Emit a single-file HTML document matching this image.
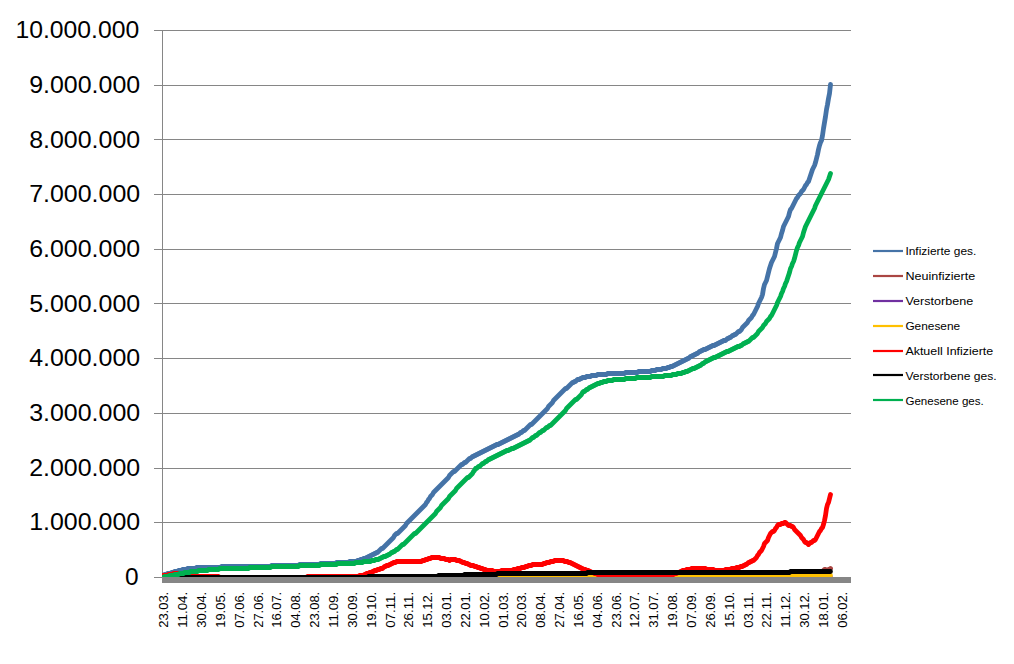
<!DOCTYPE html>
<html lang="de"><head><meta charset="utf-8"><title>Diagramm</title>
<style>html,body{margin:0;padding:0;background:#fff;}body{width:1014px;height:664px;overflow:hidden;}svg{display:block;}text{font-family:"Liberation Sans",sans-serif;fill:#000;}</style></head><body>
<svg width="1014" height="664" viewBox="0 0 1014 664">
<rect width="1014" height="664" fill="#fff"/>
<defs><clipPath id="pa"><rect x="162" y="0" width="699" height="577.5"/></clipPath></defs>
<g stroke="#868686" stroke-width="1" shape-rendering="crispEdges">
<line x1="154" y1="577.5" x2="851" y2="577.5"/>
<line x1="154" y1="522.5" x2="851" y2="522.5"/>
<line x1="154" y1="468.5" x2="851" y2="468.5"/>
<line x1="154" y1="413.5" x2="851" y2="413.5"/>
<line x1="154" y1="358.5" x2="851" y2="358.5"/>
<line x1="154" y1="303.5" x2="851" y2="303.5"/>
<line x1="154" y1="249.5" x2="851" y2="249.5"/>
<line x1="154" y1="194.5" x2="851" y2="194.5"/>
<line x1="154" y1="139.5" x2="851" y2="139.5"/>
<line x1="154" y1="85.5" x2="851" y2="85.5"/>
<line x1="154" y1="30.5" x2="851" y2="30.5"/>
<line x1="162.5" y1="30" x2="162.5" y2="578"/>
</g>
<g clip-path="url(#pa)">
<polyline points="162.5,575.5 163.5,575.5 164.5,574.5 166.5,574.5 167.5,573.5 170.5,573.5 171.5,572.5 173.5,572.5 174.5,571.5 177.5,571.5 178.5,570.5 181.5,570.5 182.5,569.5 186.5,569.5 187.5,568.5 195.5,568.5 196.5,567.5 220.5,567.5 221.5,566.5 270.5,566.5 271.5,565.5 298.5,565.5 299.5,564.5 319.5,564.5 320.5,563.5 335.5,563.5 336.5,562.5 348.5,562.5 349.5,561.5 356.5,561.5 357.5,560.5 359.5,560.5 360.5,559.5 362.5,559.5 363.5,558.5 365.5,558.5 366.5,557.5 367.5,557.5 368.5,556.5 369.5,556.5 370.5,555.5 371.5,555.5 372.5,554.5 373.5,554.5 374.5,553.5 375.5,553.5 376.5,552.5 377.5,552.5 378.5,551.5 379.5,550.5 380.5,549.5 381.5,548.5 382.5,548.5 383.5,547.5 384.5,546.5 385.5,545.5 386.5,544.5 387.5,543.5 388.5,542.5 389.5,541.5 390.5,540.5 391.5,539.5 392.5,538.5 393.5,537.5 394.5,535.5 395.5,534.5 396.5,533.5 397.5,533.5 398.5,532.5 399.5,531.5 400.5,530.5 401.5,529.5 402.5,528.5 403.5,527.5 404.5,526.5 405.5,525.5 406.5,523.5 407.5,522.5 408.5,521.5 409.5,520.5 410.5,519.5 411.5,518.5 412.5,517.5 413.5,516.5 414.5,515.5 415.5,514.5 416.5,513.5 417.5,512.5 418.5,511.5 419.5,510.5 420.5,509.5 421.5,508.5 422.5,507.5 423.5,506.5 424.5,505.5 425.5,504.5 426.5,502.5 427.5,501.5 428.5,499.5 429.5,498.5 430.5,496.5 431.5,495.5 432.5,494.5 433.5,492.5 434.5,491.5 435.5,490.5 436.5,489.5 437.5,488.5 438.5,487.5 439.5,486.5 440.5,485.5 441.5,484.5 442.5,483.5 443.5,482.5 444.5,481.5 445.5,480.5 446.5,479.5 447.5,478.5 448.5,477.5 449.5,475.5 450.5,474.5 451.5,473.5 452.5,472.5 453.5,471.5 454.5,471.5 455.5,470.5 456.5,469.5 457.5,468.5 458.5,467.5 459.5,466.5 460.5,465.5 461.5,464.5 462.5,464.5 463.5,463.5 464.5,462.5 465.5,462.5 466.5,461.5 467.5,460.5 468.5,459.5 469.5,458.5 470.5,458.5 471.5,457.5 472.5,456.5 473.5,456.5 474.5,455.5 475.5,455.5 476.5,454.5 477.5,454.5 478.5,453.5 479.5,453.5 480.5,452.5 481.5,452.5 482.5,451.5 483.5,451.5 484.5,450.5 485.5,450.5 486.5,449.5 487.5,449.5 488.5,448.5 489.5,448.5 490.5,447.5 491.5,447.5 492.5,446.5 493.5,446.5 494.5,445.5 495.5,445.5 496.5,444.5 498.5,444.5 499.5,443.5 500.5,443.5 501.5,442.5 502.5,442.5 503.5,441.5 504.5,441.5 505.5,440.5 506.5,440.5 507.5,439.5 508.5,439.5 509.5,438.5 510.5,438.5 511.5,437.5 512.5,437.5 513.5,436.5 514.5,436.5 515.5,435.5 516.5,435.5 517.5,434.5 518.5,434.5 519.5,433.5 520.5,432.5 521.5,432.5 522.5,431.5 523.5,430.5 524.5,430.5 525.5,429.5 526.5,428.5 527.5,427.5 528.5,426.5 529.5,425.5 530.5,424.5 531.5,424.5 532.5,423.5 533.5,422.5 534.5,421.5 535.5,420.5 536.5,419.5 537.5,418.5 538.5,417.5 539.5,416.5 540.5,415.5 541.5,414.5 542.5,413.5 543.5,412.5 544.5,411.5 545.5,410.5 546.5,409.5 547.5,408.5 548.5,406.5 549.5,405.5 550.5,404.5 551.5,403.5 552.5,402.5 553.5,400.5 554.5,399.5 555.5,398.5 556.5,397.5 557.5,396.5 558.5,395.5 559.5,394.5 560.5,393.5 561.5,392.5 562.5,391.5 563.5,390.5 564.5,389.5 565.5,388.5 566.5,388.5 567.5,387.5 568.5,386.5 569.5,385.5 570.5,384.5 571.5,383.5 572.5,382.5 573.5,382.5 574.5,381.5 575.5,381.5 576.5,380.5 577.5,379.5 579.5,379.5 580.5,378.5 581.5,378.5 582.5,377.5 585.5,377.5 586.5,376.5 590.5,376.5 591.5,375.5 596.5,375.5 597.5,374.5 606.5,374.5 607.5,373.5 624.5,373.5 625.5,372.5 637.5,372.5 638.5,371.5 650.5,371.5 651.5,370.5 655.5,370.5 656.5,369.5 661.5,369.5 662.5,368.5 666.5,368.5 667.5,367.5 669.5,367.5 670.5,366.5 672.5,366.5 673.5,365.5 674.5,365.5 675.5,364.5 676.5,364.5 677.5,363.5 678.5,363.5 679.5,362.5 680.5,362.5 681.5,361.5 682.5,361.5 683.5,360.5 684.5,360.5 685.5,359.5 686.5,359.5 687.5,358.5 688.5,358.5 689.5,357.5 690.5,356.5 691.5,356.5 692.5,355.5 693.5,355.5 694.5,354.5 695.5,354.5 696.5,353.5 697.5,353.5 698.5,352.5 699.5,351.5 700.5,351.5 701.5,350.5 702.5,350.5 703.5,349.5 705.5,349.5 706.5,348.5 707.5,348.5 708.5,347.5 709.5,347.5 710.5,346.5 711.5,346.5 712.5,345.5 714.5,345.5 715.5,344.5 716.5,344.5 717.5,343.5 718.5,343.5 719.5,342.5 720.5,342.5 721.5,341.5 722.5,341.5 723.5,340.5 725.5,340.5 726.5,339.5 727.5,338.5 728.5,338.5 729.5,337.5 730.5,337.5 731.5,336.5 732.5,335.5 733.5,335.5 734.5,334.5 735.5,334.5 736.5,333.5 737.5,332.5 738.5,331.5 739.5,331.5 740.5,330.5 741.5,329.5 742.5,327.5 743.5,326.5 744.5,325.5 745.5,324.5 746.5,323.5 747.5,322.5 748.5,320.5 749.5,319.5 750.5,318.5 751.5,317.5 752.5,315.5 753.5,314.5 754.5,312.5 755.5,310.5 756.5,308.5 757.5,306.5 758.5,303.5 759.5,301.5 760.5,299.5 761.5,297.5 762.5,294.5 763.5,288.5 764.5,284.5 765.5,282.5 766.5,280.5 767.5,276.5 768.5,272.5 769.5,268.5 770.5,265.5 771.5,262.5 772.5,260.5 773.5,258.5 774.5,256.5 775.5,252.5 776.5,248.5 777.5,243.5 778.5,241.5 779.5,239.5 780.5,237.5 781.5,233.5 782.5,230.5 783.5,226.5 784.5,224.5 785.5,222.5 786.5,220.5 787.5,218.5 788.5,216.5 789.5,212.5 790.5,209.5 791.5,208.5 792.5,206.5 793.5,204.5 794.5,202.5 795.5,200.5 796.5,198.5 797.5,197.5 798.5,195.5 799.5,194.5 800.5,193.5 801.5,191.5 802.5,190.5 803.5,189.5 804.5,187.5 805.5,185.5 806.5,184.5 807.5,182.5 808.5,181.5 809.5,178.5 810.5,175.5 811.5,172.5 812.5,169.5 813.5,167.5 814.5,165.5 815.5,162.5 816.5,158.5 817.5,154.5 818.5,149.5 819.5,145.5 820.5,142.5 821.5,140.5 822.5,135.5 823.5,128.5 824.5,122.5 825.5,116.5 826.5,109.5 827.5,104.5 828.5,98.5 829.5,93.5 830.5,84.5" fill="none" stroke="#4573A7" stroke-width="4.8" stroke-linecap="round" stroke-linejoin="round"/>
<polyline points="162.5,577.5 739.5,577.5 740.5,576.5 789.5,576.5 790.5,575.5 806.5,575.5 807.5,574.5 812.5,574.5 813.5,573.5 817.5,573.5 818.5,572.5 820.5,572.5 821.5,571.5 822.5,571.5 823.5,570.5 824.5,569.5 825.5,569.5 826.5,570.5 827.5,570.5 828.5,569.5 829.5,569.5 830.5,568.5" fill="none" stroke="#AA4643" stroke-width="4.8" stroke-linecap="round" stroke-linejoin="round"/>
<polyline points="162.5,577.5 830.5,577.5" fill="none" stroke="#7030A0" stroke-width="4.8" stroke-linecap="round" stroke-linejoin="round"/>
<polyline points="162.5,577.5 329.5,577.5 330.5,576.5 479.5,576.5 480.5,575.5 830.5,575.5" fill="none" stroke="#FFC000" stroke-width="4.8" stroke-linecap="round" stroke-linejoin="round"/>
<polyline points="162.5,575.5 167.5,575.5 168.5,574.5 172.5,574.5 173.5,573.5 181.5,573.5 182.5,574.5 185.5,574.5 186.5,575.5 190.5,575.5 191.5,576.5 218.5,576.5 219.5,577.5 306.5,577.5 307.5,576.5 358.5,576.5 359.5,575.5 363.5,575.5 364.5,574.5 365.5,574.5 366.5,573.5 368.5,573.5 369.5,572.5 371.5,572.5 372.5,571.5 373.5,571.5 374.5,570.5 376.5,570.5 377.5,569.5 379.5,569.5 380.5,568.5 382.5,568.5 383.5,567.5 384.5,566.5 385.5,566.5 386.5,565.5 388.5,565.5 389.5,564.5 390.5,564.5 391.5,563.5 392.5,563.5 393.5,562.5 395.5,562.5 396.5,561.5 421.5,561.5 422.5,560.5 424.5,560.5 425.5,559.5 427.5,559.5 428.5,558.5 430.5,558.5 431.5,557.5 439.5,557.5 440.5,558.5 444.5,558.5 445.5,559.5 448.5,559.5 449.5,560.5 450.5,559.5 455.5,559.5 456.5,560.5 459.5,560.5 460.5,561.5 461.5,561.5 462.5,562.5 464.5,562.5 465.5,563.5 467.5,563.5 468.5,564.5 469.5,564.5 470.5,565.5 473.5,565.5 474.5,566.5 476.5,566.5 477.5,567.5 479.5,567.5 480.5,568.5 482.5,568.5 483.5,569.5 485.5,569.5 486.5,570.5 492.5,570.5 493.5,571.5 500.5,571.5 501.5,570.5 512.5,570.5 513.5,569.5 516.5,569.5 517.5,568.5 520.5,568.5 521.5,567.5 524.5,567.5 525.5,566.5 527.5,566.5 528.5,565.5 531.5,565.5 532.5,564.5 542.5,564.5 543.5,563.5 545.5,563.5 546.5,562.5 549.5,562.5 550.5,561.5 553.5,561.5 554.5,560.5 563.5,560.5 564.5,561.5 567.5,561.5 568.5,562.5 570.5,562.5 571.5,563.5 572.5,563.5 573.5,564.5 574.5,564.5 575.5,565.5 576.5,565.5 577.5,566.5 578.5,566.5 579.5,567.5 580.5,567.5 581.5,568.5 582.5,568.5 583.5,569.5 585.5,569.5 586.5,570.5 588.5,570.5 589.5,571.5 590.5,571.5 591.5,572.5 593.5,572.5 594.5,573.5 596.5,573.5 597.5,574.5 609.5,574.5 610.5,575.5 669.5,575.5 670.5,574.5 673.5,574.5 674.5,573.5 676.5,573.5 677.5,572.5 679.5,572.5 680.5,571.5 681.5,571.5 682.5,570.5 685.5,570.5 686.5,569.5 690.5,569.5 691.5,568.5 705.5,568.5 706.5,569.5 713.5,569.5 714.5,570.5 724.5,570.5 725.5,569.5 730.5,569.5 731.5,568.5 735.5,568.5 736.5,567.5 739.5,567.5 740.5,566.5 742.5,566.5 743.5,565.5 744.5,565.5 745.5,564.5 746.5,564.5 747.5,563.5 748.5,562.5 749.5,562.5 750.5,561.5 751.5,561.5 752.5,560.5 753.5,560.5 754.5,559.5 755.5,558.5 756.5,557.5 757.5,555.5 758.5,554.5 759.5,552.5 760.5,551.5 761.5,550.5 762.5,548.5 763.5,546.5 764.5,543.5 765.5,542.5 766.5,541.5 767.5,540.5 768.5,537.5 769.5,535.5 770.5,533.5 771.5,532.5 772.5,531.5 773.5,531.5 774.5,530.5 775.5,528.5 776.5,527.5 777.5,525.5 778.5,524.5 780.5,524.5 781.5,523.5 783.5,523.5 784.5,522.5 785.5,522.5 786.5,523.5 787.5,524.5 788.5,525.5 790.5,525.5 791.5,526.5 792.5,526.5 793.5,527.5 794.5,529.5 795.5,530.5 796.5,531.5 797.5,532.5 798.5,533.5 799.5,534.5 800.5,535.5 801.5,537.5 802.5,538.5 803.5,539.5 804.5,541.5 805.5,542.5 806.5,542.5 807.5,543.5 808.5,544.5 809.5,543.5 810.5,542.5 811.5,542.5 812.5,541.5 813.5,540.5 814.5,540.5 815.5,539.5 816.5,537.5 817.5,535.5 818.5,533.5 819.5,531.5 820.5,530.5 821.5,528.5 822.5,527.5 823.5,524.5 824.5,520.5 825.5,515.5 826.5,508.5 827.5,504.5 828.5,502.5 829.5,498.5 830.5,494.5" fill="none" stroke="#FF0000" stroke-width="4.8" stroke-linecap="round" stroke-linejoin="round"/>
<polyline points="162.5,577.5 367.5,577.5 368.5,576.5 437.5,576.5 438.5,575.5 463.5,575.5 464.5,574.5 496.5,574.5 497.5,573.5 586.5,573.5 587.5,572.5 789.5,572.5 790.5,571.5 830.5,571.5" fill="none" stroke="#000000" stroke-width="4.8" stroke-linecap="round" stroke-linejoin="round"/>
<polyline points="162.5,577.5 163.5,577.5 164.5,576.5 168.5,576.5 169.5,575.5 173.5,575.5 174.5,574.5 178.5,574.5 179.5,573.5 183.5,573.5 184.5,572.5 189.5,572.5 190.5,571.5 197.5,571.5 198.5,570.5 207.5,570.5 208.5,569.5 218.5,569.5 219.5,568.5 248.5,568.5 249.5,567.5 270.5,567.5 271.5,566.5 298.5,566.5 299.5,565.5 319.5,565.5 320.5,564.5 336.5,564.5 337.5,563.5 354.5,563.5 355.5,562.5 362.5,562.5 363.5,561.5 370.5,561.5 371.5,560.5 374.5,560.5 375.5,559.5 378.5,559.5 379.5,558.5 380.5,558.5 381.5,557.5 382.5,557.5 383.5,556.5 385.5,556.5 386.5,555.5 387.5,555.5 388.5,554.5 389.5,554.5 390.5,553.5 391.5,552.5 392.5,552.5 393.5,551.5 394.5,551.5 395.5,550.5 396.5,549.5 397.5,549.5 398.5,548.5 399.5,547.5 400.5,546.5 401.5,545.5 402.5,544.5 403.5,544.5 404.5,543.5 405.5,542.5 406.5,541.5 407.5,540.5 408.5,539.5 409.5,538.5 410.5,537.5 411.5,536.5 412.5,535.5 413.5,534.5 414.5,533.5 415.5,533.5 416.5,532.5 417.5,531.5 418.5,530.5 419.5,529.5 420.5,528.5 421.5,527.5 422.5,526.5 423.5,525.5 424.5,524.5 425.5,523.5 426.5,522.5 427.5,521.5 428.5,520.5 429.5,519.5 430.5,518.5 431.5,517.5 432.5,516.5 433.5,515.5 434.5,514.5 435.5,513.5 436.5,511.5 437.5,510.5 438.5,509.5 439.5,508.5 440.5,507.5 441.5,505.5 442.5,504.5 443.5,503.5 444.5,502.5 445.5,501.5 446.5,500.5 447.5,499.5 448.5,498.5 449.5,496.5 450.5,495.5 451.5,494.5 452.5,493.5 453.5,492.5 454.5,491.5 455.5,490.5 456.5,488.5 457.5,487.5 458.5,486.5 459.5,485.5 460.5,484.5 461.5,483.5 462.5,482.5 463.5,481.5 464.5,480.5 465.5,479.5 466.5,478.5 467.5,477.5 468.5,477.5 469.5,476.5 470.5,475.5 471.5,474.5 472.5,473.5 473.5,471.5 474.5,470.5 475.5,468.5 476.5,468.5 477.5,467.5 478.5,466.5 479.5,466.5 480.5,465.5 481.5,464.5 482.5,463.5 483.5,463.5 484.5,462.5 485.5,461.5 486.5,461.5 487.5,460.5 488.5,459.5 489.5,459.5 490.5,458.5 491.5,458.5 492.5,457.5 493.5,457.5 494.5,456.5 495.5,456.5 496.5,455.5 497.5,455.5 498.5,454.5 499.5,454.5 500.5,453.5 501.5,453.5 502.5,452.5 503.5,452.5 504.5,451.5 505.5,451.5 506.5,450.5 508.5,450.5 509.5,449.5 510.5,449.5 511.5,448.5 513.5,448.5 514.5,447.5 515.5,447.5 516.5,446.5 517.5,446.5 518.5,445.5 519.5,445.5 520.5,444.5 521.5,444.5 522.5,443.5 523.5,443.5 524.5,442.5 525.5,442.5 526.5,441.5 527.5,441.5 528.5,440.5 529.5,440.5 530.5,439.5 531.5,438.5 532.5,437.5 533.5,437.5 534.5,436.5 535.5,435.5 536.5,435.5 537.5,434.5 538.5,433.5 539.5,432.5 540.5,432.5 541.5,431.5 542.5,430.5 543.5,430.5 544.5,429.5 545.5,428.5 546.5,427.5 547.5,427.5 548.5,426.5 549.5,425.5 550.5,425.5 551.5,424.5 552.5,423.5 553.5,422.5 554.5,421.5 555.5,420.5 556.5,419.5 557.5,418.5 558.5,417.5 559.5,416.5 560.5,415.5 561.5,414.5 562.5,413.5 563.5,412.5 564.5,411.5 565.5,410.5 566.5,408.5 567.5,407.5 568.5,406.5 569.5,405.5 570.5,404.5 571.5,403.5 572.5,402.5 573.5,401.5 574.5,400.5 575.5,399.5 576.5,399.5 577.5,398.5 578.5,397.5 579.5,396.5 580.5,395.5 581.5,394.5 582.5,392.5 583.5,391.5 584.5,391.5 585.5,390.5 586.5,389.5 587.5,389.5 588.5,388.5 589.5,387.5 590.5,387.5 591.5,386.5 592.5,386.5 593.5,385.5 594.5,385.5 595.5,384.5 596.5,384.5 597.5,383.5 599.5,383.5 600.5,382.5 602.5,382.5 603.5,381.5 606.5,381.5 607.5,380.5 612.5,380.5 613.5,379.5 624.5,379.5 625.5,378.5 635.5,378.5 636.5,377.5 650.5,377.5 651.5,376.5 663.5,376.5 664.5,375.5 671.5,375.5 672.5,374.5 676.5,374.5 677.5,373.5 681.5,373.5 682.5,372.5 684.5,372.5 685.5,371.5 687.5,371.5 688.5,370.5 689.5,370.5 690.5,369.5 691.5,369.5 692.5,368.5 694.5,368.5 695.5,367.5 696.5,367.5 697.5,366.5 698.5,366.5 699.5,365.5 700.5,365.5 701.5,364.5 702.5,363.5 703.5,363.5 704.5,362.5 705.5,361.5 706.5,361.5 707.5,360.5 708.5,360.5 709.5,359.5 710.5,359.5 711.5,358.5 712.5,358.5 713.5,357.5 715.5,357.5 716.5,356.5 717.5,356.5 718.5,355.5 719.5,355.5 720.5,354.5 721.5,354.5 722.5,353.5 723.5,353.5 724.5,352.5 725.5,352.5 726.5,351.5 728.5,351.5 729.5,350.5 730.5,350.5 731.5,349.5 732.5,349.5 733.5,348.5 734.5,348.5 735.5,347.5 736.5,347.5 737.5,346.5 739.5,346.5 740.5,345.5 741.5,345.5 742.5,344.5 743.5,343.5 744.5,343.5 745.5,342.5 746.5,342.5 747.5,341.5 748.5,341.5 749.5,340.5 750.5,339.5 751.5,338.5 752.5,337.5 753.5,337.5 754.5,336.5 755.5,335.5 756.5,334.5 757.5,333.5 758.5,331.5 759.5,330.5 760.5,329.5 761.5,328.5 762.5,327.5 763.5,325.5 764.5,324.5 765.5,323.5 766.5,321.5 767.5,320.5 768.5,319.5 769.5,318.5 770.5,316.5 771.5,315.5 772.5,313.5 773.5,311.5 774.5,309.5 775.5,307.5 776.5,305.5 777.5,302.5 778.5,300.5 779.5,298.5 780.5,296.5 781.5,293.5 782.5,291.5 783.5,288.5 784.5,286.5 785.5,283.5 786.5,281.5 787.5,278.5 788.5,275.5 789.5,272.5 790.5,268.5 791.5,266.5 792.5,263.5 793.5,261.5 794.5,258.5 795.5,254.5 796.5,250.5 797.5,247.5 798.5,245.5 799.5,242.5 800.5,240.5 801.5,238.5 802.5,236.5 803.5,232.5 804.5,229.5 805.5,226.5 806.5,224.5 807.5,222.5 808.5,220.5 809.5,218.5 810.5,216.5 811.5,214.5 812.5,212.5 813.5,210.5 814.5,208.5 815.5,205.5 816.5,203.5 817.5,201.5 818.5,199.5 819.5,197.5 820.5,195.5 821.5,193.5 822.5,191.5 823.5,189.5 824.5,187.5 825.5,185.5 826.5,183.5 827.5,181.5 828.5,179.5 829.5,176.5 830.5,173.5" fill="none" stroke="#00B050" stroke-width="4.8" stroke-linecap="round" stroke-linejoin="round"/>
</g>
<rect x="162" y="577" width="689" height="6" fill="#868686"/>
<g font-size="24.4" text-anchor="end">
<text x="138.6" y="585.1" textLength="13.6" lengthAdjust="spacingAndGlyphs">0</text>
<text x="140.2" y="530.4" textLength="111.0" lengthAdjust="spacingAndGlyphs">1.000.000</text>
<text x="140.2" y="475.7" textLength="111.0" lengthAdjust="spacingAndGlyphs">2.000.000</text>
<text x="140.2" y="421.0" textLength="111.0" lengthAdjust="spacingAndGlyphs">3.000.000</text>
<text x="140.2" y="366.3" textLength="111.0" lengthAdjust="spacingAndGlyphs">4.000.000</text>
<text x="140.2" y="311.6" textLength="111.0" lengthAdjust="spacingAndGlyphs">5.000.000</text>
<text x="140.2" y="256.9" textLength="111.0" lengthAdjust="spacingAndGlyphs">6.000.000</text>
<text x="140.2" y="202.2" textLength="111.0" lengthAdjust="spacingAndGlyphs">7.000.000</text>
<text x="140.2" y="147.5" textLength="111.0" lengthAdjust="spacingAndGlyphs">8.000.000</text>
<text x="140.2" y="92.8" textLength="111.0" lengthAdjust="spacingAndGlyphs">9.000.000</text>
<text x="139.2" y="38.1" textLength="123.8" lengthAdjust="spacingAndGlyphs">10.000.000</text>
</g>
<g font-size="13.3">
<text transform="translate(168.40,627.8) rotate(-90)" textLength="36" lengthAdjust="spacingAndGlyphs">23.03.</text>
<text transform="translate(187.24,627.8) rotate(-90)" textLength="36" lengthAdjust="spacingAndGlyphs">11.04.</text>
<text transform="translate(206.08,627.8) rotate(-90)" textLength="36" lengthAdjust="spacingAndGlyphs">30.04.</text>
<text transform="translate(224.93,627.8) rotate(-90)" textLength="36" lengthAdjust="spacingAndGlyphs">19.05.</text>
<text transform="translate(243.77,627.8) rotate(-90)" textLength="36" lengthAdjust="spacingAndGlyphs">07.06.</text>
<text transform="translate(262.61,627.8) rotate(-90)" textLength="36" lengthAdjust="spacingAndGlyphs">27.06.</text>
<text transform="translate(281.45,627.8) rotate(-90)" textLength="36" lengthAdjust="spacingAndGlyphs">16.07.</text>
<text transform="translate(300.29,627.8) rotate(-90)" textLength="36" lengthAdjust="spacingAndGlyphs">04.08.</text>
<text transform="translate(319.14,627.8) rotate(-90)" textLength="36" lengthAdjust="spacingAndGlyphs">23.08.</text>
<text transform="translate(337.98,627.8) rotate(-90)" textLength="36" lengthAdjust="spacingAndGlyphs">11.09.</text>
<text transform="translate(356.82,627.8) rotate(-90)" textLength="36" lengthAdjust="spacingAndGlyphs">30.09.</text>
<text transform="translate(375.66,627.8) rotate(-90)" textLength="36" lengthAdjust="spacingAndGlyphs">19.10.</text>
<text transform="translate(394.50,627.8) rotate(-90)" textLength="36" lengthAdjust="spacingAndGlyphs">07.11.</text>
<text transform="translate(413.35,627.8) rotate(-90)" textLength="36" lengthAdjust="spacingAndGlyphs">26.11.</text>
<text transform="translate(432.19,627.8) rotate(-90)" textLength="36" lengthAdjust="spacingAndGlyphs">15.12.</text>
<text transform="translate(451.03,627.8) rotate(-90)" textLength="36" lengthAdjust="spacingAndGlyphs">03.01.</text>
<text transform="translate(469.87,627.8) rotate(-90)" textLength="36" lengthAdjust="spacingAndGlyphs">22.01.</text>
<text transform="translate(488.71,627.8) rotate(-90)" textLength="36" lengthAdjust="spacingAndGlyphs">10.02.</text>
<text transform="translate(507.56,627.8) rotate(-90)" textLength="36" lengthAdjust="spacingAndGlyphs">01.03.</text>
<text transform="translate(526.40,627.8) rotate(-90)" textLength="36" lengthAdjust="spacingAndGlyphs">20.03.</text>
<text transform="translate(545.24,627.8) rotate(-90)" textLength="36" lengthAdjust="spacingAndGlyphs">08.04.</text>
<text transform="translate(564.08,627.8) rotate(-90)" textLength="36" lengthAdjust="spacingAndGlyphs">27.04.</text>
<text transform="translate(582.92,627.8) rotate(-90)" textLength="36" lengthAdjust="spacingAndGlyphs">16.05.</text>
<text transform="translate(601.77,627.8) rotate(-90)" textLength="36" lengthAdjust="spacingAndGlyphs">04.06.</text>
<text transform="translate(620.61,627.8) rotate(-90)" textLength="36" lengthAdjust="spacingAndGlyphs">23.06.</text>
<text transform="translate(639.45,627.8) rotate(-90)" textLength="36" lengthAdjust="spacingAndGlyphs">12.07.</text>
<text transform="translate(658.29,627.8) rotate(-90)" textLength="36" lengthAdjust="spacingAndGlyphs">31.07.</text>
<text transform="translate(677.13,627.8) rotate(-90)" textLength="36" lengthAdjust="spacingAndGlyphs">19.08.</text>
<text transform="translate(695.98,627.8) rotate(-90)" textLength="36" lengthAdjust="spacingAndGlyphs">07.09.</text>
<text transform="translate(714.82,627.8) rotate(-90)" textLength="36" lengthAdjust="spacingAndGlyphs">26.09.</text>
<text transform="translate(733.66,627.8) rotate(-90)" textLength="36" lengthAdjust="spacingAndGlyphs">15.10.</text>
<text transform="translate(752.50,627.8) rotate(-90)" textLength="36" lengthAdjust="spacingAndGlyphs">03.11.</text>
<text transform="translate(771.34,627.8) rotate(-90)" textLength="36" lengthAdjust="spacingAndGlyphs">22.11.</text>
<text transform="translate(790.19,627.8) rotate(-90)" textLength="36" lengthAdjust="spacingAndGlyphs">11.12.</text>
<text transform="translate(809.03,627.8) rotate(-90)" textLength="36" lengthAdjust="spacingAndGlyphs">30.12.</text>
<text transform="translate(827.87,627.8) rotate(-90)" textLength="36" lengthAdjust="spacingAndGlyphs">18.01.</text>
<text transform="translate(846.71,627.8) rotate(-90)" textLength="36" lengthAdjust="spacingAndGlyphs">06.02.</text>
</g>
<g font-size="11.2">
<line x1="873" y1="251" x2="903" y2="251" stroke="#4573A7" stroke-width="2.2"/>
<text x="905.4" y="255.0" textLength="70.9" lengthAdjust="spacingAndGlyphs">Infizierte ges.</text>
<line x1="873" y1="276" x2="903" y2="276" stroke="#AA4643" stroke-width="2.2"/>
<text x="905.4" y="280.0" textLength="69.8" lengthAdjust="spacingAndGlyphs">Neuinfizierte</text>
<line x1="873" y1="301" x2="903" y2="301" stroke="#7030A0" stroke-width="2.2"/>
<text x="905.4" y="305.0" textLength="67.9" lengthAdjust="spacingAndGlyphs">Verstorbene</text>
<line x1="873" y1="326" x2="903" y2="326" stroke="#FFC000" stroke-width="2.2"/>
<text x="905.4" y="330.0" textLength="54.8" lengthAdjust="spacingAndGlyphs">Genesene</text>
<line x1="873" y1="351" x2="903" y2="351" stroke="#FF0000" stroke-width="2.2"/>
<text x="905.4" y="355.0" textLength="87.8" lengthAdjust="spacingAndGlyphs">Aktuell Infizierte</text>
<line x1="873" y1="375" x2="903" y2="375" stroke="#000000" stroke-width="2.2"/>
<text x="905.4" y="380.0" textLength="91.2" lengthAdjust="spacingAndGlyphs">Verstorbene ges.</text>
<line x1="873" y1="400" x2="903" y2="400" stroke="#00B050" stroke-width="2.2"/>
<text x="905.4" y="404.6" textLength="78.4" lengthAdjust="spacingAndGlyphs">Genesene ges.</text>
</g>
</svg></body></html>
